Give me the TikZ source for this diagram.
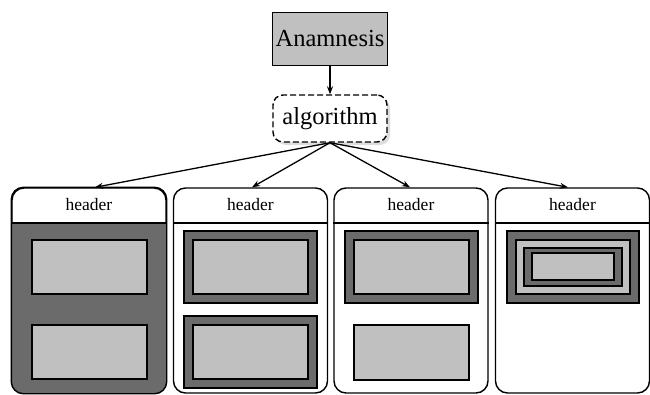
\documentclass[tikz,border=0pt]{standalone}
\usepackage{fontspec}
\setmainfont{Liberation Serif}
\usetikzlibrary{arrows.meta,shadows}
\definecolor{darkfill}{HTML}{6B6B6B}
\definecolor{lightfill}{HTML}{C0C0C0}
\begin{document}
\begin{tikzpicture}[x=1pt,y=-1pt,
  bigtext/.style={font=\fontsize{24.5}{27}\selectfont},
  colbox/.style={draw, line width=1.4pt, rounded corners=12pt, minimum width=154pt, minimum height=205pt, inner sep=0pt},
  hdrtext/.style={font=\fontsize{17.5}{20}\selectfont},
  darkbox/.style={draw, line width=1.3pt, fill=darkfill, inner sep=0pt},
  lightbox/.style={draw, line width=1.3pt, fill=lightfill, inner sep=0pt},
  conn/.style={line width=1.3pt, -{Stealth[length=8pt,width=6pt]}}]
\useasboundingbox (0,0) rectangle (650,394);

% top nodes
\node[draw, fill=lightfill, line width=1.3pt, minimum width=115pt, minimum height=53pt, inner sep=0pt, bigtext] (an) at (330,39) {Anamnesis};
\node[draw, dashed, dash pattern=on 6pt off 3pt, rounded corners=10pt, line width=1.4pt, fill=white,
      minimum width=114pt, minimum height=47pt, inner sep=0pt, bigtext,
      drop shadow={shadow xshift=3pt, shadow yshift=-3pt, fill=gray!45, opacity=.6}] (alg) at (330,118.5) {algorithm};
\draw[conn] (an.south) -- (alg.north);

% columns
\node[colbox] (c1) at (89,290.5) {};
\node[colbox] (c2) at (250.5,290.5) {};
\node[colbox] (c3) at (411,290.5) {};
\node[colbox] (c4) at (572.5,290.5) {};

% column 1 dark body
\begin{scope}
  \clip[rounded corners=12pt] (c1.north west) rectangle (c1.south east);
  \fill[darkfill] (c1.west |- 0,223) rectangle (c1.south east);
\end{scope}
\draw[line width=1.4pt, rounded corners=12pt] (c1.north west) rectangle (c1.south east);

% header lines and texts
\foreach \c in {c1,c2,c3,c4}{
  \draw[line width=1.3pt] (\c.west |- 0,223) -- (\c.east |- 0,223);
}
\node[hdrtext] (h1) at (89,205) {header};
\node[hdrtext] (h2) at (250.5,205) {header};
\node[hdrtext] (h3) at (411,205) {header};
\node[hdrtext] (h4) at (572.5,205) {header};

% arrows from algorithm
\draw[conn] (alg.south) -- ([xshift=6pt]c1.north);
\draw[conn] (alg.south) -- ([xshift=1.5pt]c2.north);
\draw[conn] (alg.south) -- ([xshift=-1pt]c3.north);
\draw[conn] (alg.south) -- ([xshift=-4.5pt]c4.north);

% column 1 contents
\node[lightbox, minimum width=115pt, minimum height=54pt] (a1) at (89.5,267) {};
\node[lightbox, minimum width=115pt, minimum height=54pt] (a2) at (89.5,352) {};

% column 2 contents
\node[darkbox, minimum width=133pt, minimum height=72pt] (b1o) at (250.5,267) {};
\node[lightbox, minimum width=115pt, minimum height=54pt] (b1i) at (250.5,267) {};
\node[darkbox, minimum width=133pt, minimum height=72pt] (b2o) at (250.5,352) {};
\node[lightbox, minimum width=115pt, minimum height=54pt] (b2i) at (250.5,352) {};

% column 3 contents
\node[darkbox, minimum width=133pt, minimum height=72pt] (d1o) at (411.5,267) {};
\node[lightbox, minimum width=115pt, minimum height=54pt] (d1i) at (411.5,267) {};
\node[lightbox, minimum width=115pt, minimum height=55pt] (d2) at (411.5,352.5) {};

% column 4 contents
\node[darkbox, minimum width=132pt, minimum height=72pt] (e1) at (573,267) {};
\node[lightbox, minimum width=114pt, minimum height=54pt] (e2) at (573,267) {};
\node[darkbox, minimum width=98pt, minimum height=38pt] (e3) at (573,267) {};
\node[lightbox, minimum width=82pt, minimum height=27pt] (e4) at (573,266.5) {};
\end{tikzpicture}
\end{document}
